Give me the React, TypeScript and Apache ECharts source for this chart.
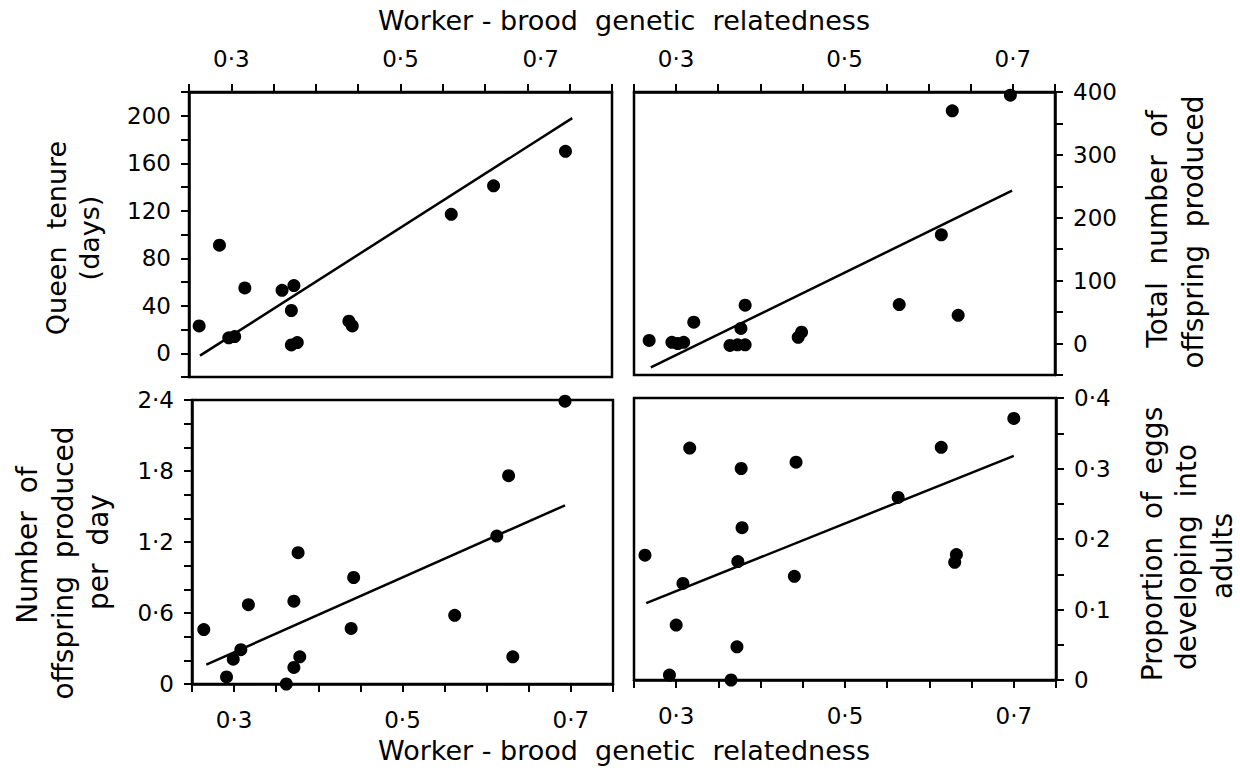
import React, { useEffect, useRef } from "react";
import * as echarts from "echarts";

// Worker-brood genetic relatedness (x) for each panel
const tenureX = [0.262, 0.286, 0.297, 0.304, 0.316, 0.360, 0.374, 0.371, 0.371, 0.378, 0.439, 0.443, 0.560, 0.610, 0.695];
const tenureY = [23, 91, 13, 14, 55, 53, 57, 36, 7, 9, 27, 23, 117, 141, 170];
const tenureFit = [[0.263, -2], [0.703, 198]];

const totalX = [0.268, 0.295, 0.302, 0.309, 0.321, 0.382, 0.377, 0.364, 0.373, 0.382, 0.445, 0.449, 0.565, 0.615, 0.628, 0.635, 0.697];
const totalY = [5, 2, 0, 2, 34, 61, 24, -3, -2, -2, 10, 18, 62, 173, 370, 45, 395];
const totalFit = [[0.27, -38], [0.699, 243]];

const perDayX = [0.264, 0.291, 0.299, 0.308, 0.317, 0.362, 0.371, 0.371, 0.376, 0.378, 0.439, 0.442, 0.562, 0.612, 0.626, 0.631, 0.693];
const perDayY = [0.46, 0.06, 0.21, 0.29, 0.67, 0.0, 0.70, 0.14, 1.11, 0.23, 0.47, 0.90, 0.58, 1.25, 1.76, 0.23, 2.39];
const perDayFit = [[0.267, 0.164], [0.693, 1.51]];

const propX = [0.263, 0.292, 0.300, 0.308, 0.316, 0.365, 0.372, 0.373, 0.378, 0.377, 0.440, 0.442, 0.563, 0.614, 0.632, 0.630, 0.700];
const propY = [0.177, 0.007, 0.078, 0.137, 0.329, 0.0, 0.047, 0.168, 0.216, 0.300, 0.147, 0.309, 0.259, 0.330, 0.178, 0.167, 0.371];
const propFit = [[0.2645, 0.109], [0.70, 0.318]];

// tick labels
const xLabels = [0.3, 0.5, 0.7];
const tenureLabels = [0, 40, 80, 120, 160, 200];
const totalLabels = [0, 100, 200, 300, 400];
const perDayLabels = [0, 0.6, 1.2, 1.8, 2.4];
const propLabels = [0, 0.1, 0.2, 0.3, 0.4];

const FONT = "DejaVu Sans";
const TICK_FS = 23;
const fmt = (v: number) => (v === 0 ? "0" : String(v).replace(".", "·"));
const pick = (labels: number[], shiftVal?: number) => (v: number) => {
  const r = Math.round(v * 1000) / 1000;
  if (!labels.includes(r)) return "";
  if (shiftVal !== undefined && r === shiftVal) return "{s|" + fmt(r) + "}";
  return fmt(r);
};
const zip = (xs: number[], ys: number[]) => xs.map((x, i) => [x, ys[i]]);

export default function App() {
  const ref = useRef<HTMLDivElement>(null);
  useEffect(() => {
    if (!ref.current) return;
    const chart = echarts.init(ref.current, undefined, { renderer: "svg" });
    const grids = [
      { left: 189, top: 92, width: 423, height: 285 },
      { left: 634, top: 92, width: 421, height: 283 },
      { left: 192, top: 400, width: 421, height: 284 },
      { left: 634, top: 398, width: 422, height: 282 },
    ].map((g) => ({ ...g, show: true, borderColor: "#000", borderWidth: 2.5, backgroundColor: "transparent", containLabel: false }));

    const tick = { show: true, inside: false, length: 8, lineStyle: { color: "#000", width: 2 } };
    const line = { show: true, onZero: false, lineStyle: { color: "#000", width: 2.5 } };
    const lab = { color: "#000", fontFamily: FONT, fontSize: TICK_FS, interval: 0 };

    const xAxis = (gi: number, pos: "top" | "bottom", shift?: number) => ({
      type: "value", gridIndex: gi, position: pos, min: 0.25, max: 0.75, interval: 0.05,
      axisLine: line, axisTick: tick, splitLine: { show: false },
      axisLabel: {
        ...lab, margin: pos === "top" ? 22 : 24, formatter: pick(xLabels, shift),
        rich: { s: { fontFamily: FONT, fontSize: TICK_FS, color: "#000", padding: [0, 58, 0, 0] } },
      },
    });
    const yAxis = (gi: number, pos: "left" | "right", min: number, max: number, interval: number, labels: number[]) => ({
      type: "value", gridIndex: gi, position: pos, min, max, interval,
      axisLine: line, axisTick: tick, splitLine: { show: false },
      axisLabel: { ...lab, margin: 18, formatter: pick(labels) },
    });

    const scatter = (gi: number, data: number[][]) => ({
      type: "scatter", xAxisIndex: gi, yAxisIndex: gi, data, symbolSize: 13,
      itemStyle: { color: "#000", opacity: 1 }, clip: false,
    });
    const fit = (gi: number, data: number[][]) => ({
      type: "line", xAxisIndex: gi, yAxisIndex: gi, data, symbol: "none",
      lineStyle: { color: "#000", width: 2.5 },
    });

    const txt = (text: string, x: number, y: number, rot = 0, size = 28) => ({
      type: "text", x, y, rotation: rot,
      style: { text, fill: "#000", font: `${size}px "${FONT}"`, textAlign: "center", textVerticalAlign: "middle", align: "center", verticalAlign: "middle" },
    });
    const R = Math.PI / 2;

    chart.setOption({
      animation: false,
      backgroundColor: "#fff",
      grid: grids,
      xAxis: [xAxis(0, "top", 0.7), xAxis(1, "top"), xAxis(2, "bottom"), xAxis(3, "bottom")],
      yAxis: [
        yAxis(0, "left", -20, 220, 20, tenureLabels),
        yAxis(1, "right", -50, 400, 50, totalLabels),
        yAxis(2, "left", 0, 2.4, 0.2, perDayLabels),
        yAxis(3, "right", 0, 0.4, 0.05, propLabels),
      ],
      series: [
        scatter(0, zip(tenureX, tenureY)), fit(0, tenureFit),
        scatter(1, zip(totalX, totalY)), fit(1, totalFit),
        scatter(2, zip(perDayX, perDayY)), fit(2, perDayFit),
        scatter(3, zip(propX, propY)), fit(3, propFit),
      ],
      graphic: [
        txt("Worker - brood  genetic  relatedness", 624, 20, 0, 27),
        txt("Worker - brood  genetic  relatedness", 624, 750, 0, 27),
        txt("Queen  tenure", 56, 238, R, 27),
        txt("(days)", 89, 238, R, 27),
        txt("Number  of", 27, 545, R),
        txt("offspring  produced", 63, 563, R),
        txt("per  day", 98, 552, R),
        txt("Total  number  of", 1157, 229, R),
        txt("offspring  produced", 1193, 232, R),
        txt("Proportion  of  eggs", 1152, 544, R),
        txt("developing  into", 1186, 557, R),
        txt("adults", 1222, 556, R),
      ],
    });
    return () => chart.dispose();
  }, []);
  return <div ref={ref} style={{ position: "fixed", left: 0, top: 0, width: 1240, height: 770 }} />;
}
